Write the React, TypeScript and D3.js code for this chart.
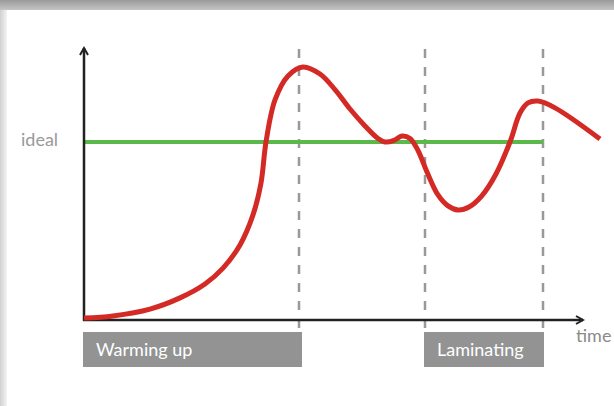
import React from 'react';
import * as d3 from 'd3';

// curve readings: time (0..100 along the axis) and level (0..100 up the axis)
const curveTime = [0, 5.8, 13.2, 19.2, 24.2, 27.8, 31.2, 33.8, 35.4, 36.4, 38.2, 40.8, 43.8, 47.2, 50.2, 53.2, 56.2, 58.8, 60.2, 62, 63.6, 65.2, 66.8, 68.6, 70.8, 72.8, 74.8, 77, 79.6, 82.4, 85.2, 87.2, 88.8, 90.8, 94.2, 103.2];
const curveLevel = [0.7, 1.5, 4.0, 8.1, 13.2, 19.0, 27.5, 38.5, 50.2, 65.2, 80.6, 89.4, 92.7, 90.1, 84.4, 77.3, 71.1, 66.5, 65.2, 65.8, 67.4, 66.5, 62.1, 54.2, 45.8, 41.8, 40.3, 41.4, 45.6, 53.5, 65.2, 75.8, 79.5, 80.2, 77.7, 66.3];

const idealLevel = 65.2;
const idealEnd = 91.8;

const phaseNames = ['Warming up', 'Laminating'];
const phaseStart = [0, 68.2];
const phaseEnd = [43.4, 91.8];
const dividers = [43, 68.2, 91.8];

const W = 614, H = 406;
const plot = {left: 84, right: 584, top: 47, bottom: 320};

const App = () => {
    const x = d3.scaleLinear().domain([0, 100]).range([plot.left, plot.right]);
    const y = d3.scaleLinear().domain([0, 100]).range([plot.bottom, plot.top]);

    const pts: [number, number][] = curveTime.map((t, i) => [t, curveLevel[i]]);
    const line = d3.line<[number, number]>()
        .x((d) => x(d[0]))
        .y((d) => y(d[1]))
        .curve(d3.curveCatmullRom.alpha(0.5));

    const font = 'Lato, "Noto Sans", sans-serif';
    const boxTop = 332, boxH = 35;

    return (
        <svg width={W} height={H} style={{position: 'absolute', left: 0, top: 0}}>
            <defs>
                <linearGradient id="topShade" x1="0" y1="0" x2="0" y2="1">
                    <stop offset="0" stopColor="#9a9a9a" />
                    <stop offset="1" stopColor="#c4c4c4" />
                </linearGradient>
                <linearGradient id="leftShade" x1="0" y1="0" x2="1" y2="0">
                    <stop offset="0" stopColor="#d0d0d0" />
                    <stop offset="1" stopColor="#f4f4f4" />
                </linearGradient>
                <marker id="arrow" viewBox="0 0 10 10" refX="8" refY="5" markerWidth="4" markerHeight="4" orient="auto">
                    <path d="M1,1 L8,5 L1,9" fill="none" stroke="#222" strokeWidth="2" />
                </marker>
            </defs>
            <rect x={0} y={0} width={W} height={H} fill="#fff" />
            <rect x={0} y={0} width={7} height={H} fill="url(#leftShade)" />
            <rect x={0} y={0} width={W} height={10} fill="url(#topShade)" />

            {dividers.map((t, i) => (
                <line key={i} x1={x(t)} x2={x(t)} y1={plot.top + 2} y2={boxTop}
                      stroke="#999" strokeWidth={2.5} strokeDasharray="9 9" />
            ))}

            <line x1={x(0)} x2={x(idealEnd)} y1={y(idealLevel)} y2={y(idealLevel)}
                  stroke="#5bb94b" strokeWidth={4} />

            <line x1={x(0)} x2={x(0)} y1={plot.bottom + 1} y2={plot.top + 1}
                  stroke="#222" strokeWidth={2.5} markerEnd="url(#arrow)" />
            <line x1={x(0) - 1} x2={x(100) - 1} y1={plot.bottom} y2={plot.bottom}
                  stroke="#222" strokeWidth={2.5} markerEnd="url(#arrow)" />

            <path d={line(pts) || ''} fill="none" stroke="#d42a26" strokeWidth={5}
                  strokeLinecap="butt" strokeLinejoin="round" />

            <text x={21} y={146} fill="#999" fontSize={18} fontFamily={font}>ideal</text>
            <text x={576} y={342} fill="#8a8a8a" fontSize={18} fontFamily={font}>time</text>

            {phaseNames.map((name, i) => (
                <g key={name}>
                    <rect x={x(phaseStart[i]) - 1} y={boxTop} width={x(phaseEnd[i]) - x(phaseStart[i]) + 2}
                          height={boxH} fill="#939393" />
                    <text x={x(phaseStart[i]) + 12} y={boxTop + 24} fill="#fff" fontSize={18}
                          fontFamily={font}>{name}</text>
                </g>
            ))}
        </svg>
    );
};

export default App;
